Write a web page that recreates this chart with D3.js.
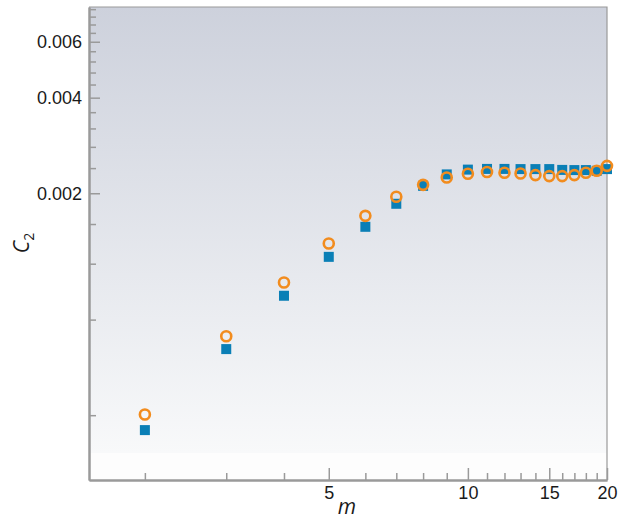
<!DOCTYPE html>
<html>
<head>
<meta charset="utf-8">
<script src="https://cdn.jsdelivr.net/npm/d3@7"></script>
<style>
  html, body { margin: 0; padding: 0; background: #ffffff; }
  svg { display: block; font-family: "Open Sans", "DejaVu Sans", sans-serif; }
</style>
</head>
<body>
<svg id="chart" width="629" height="520"></svg>
<script>
// Orders m and the two series of C2 values
const mValues = [2, 3, 4, 5, 6, 7, 8, 9, 10, 11, 12, 13, 14, 15, 16, 17, 18, 19, 20];
const seriesSquares = [0.000359, 0.000646, 0.000951, 0.001261, 0.001568, 0.001853, 0.00211,
  0.002293, 0.002374, 0.002386, 0.002386, 0.002383, 0.002383, 0.002383, 0.002369,
  0.002366, 0.002366, 0.002354, 0.002383];
const seriesCircles = [0.000402, 0.000709, 0.001047, 0.00139, 0.001698, 0.001949, 0.002126,
  0.002243, 0.002303, 0.002332, 0.00232, 0.002309, 0.002281, 0.002265, 0.002265,
  0.002281, 0.00232, 0.002354, 0.00244];

// Axis ticks
const xMajorTicks = [5, 10, 15, 20];
const xMinorTicks = [2, 3, 4, 6, 7, 8, 9, 11, 12, 13, 14, 16, 17, 18, 19];
const yMajorTicks = [0.002, 0.004, 0.006];
const yMinorTicks = [0.0004, 0.0008, 0.0012, 0.0016, 0.0024, 0.0028, 0.0032, 0.0036,
  0.0044, 0.0048, 0.0052, 0.0056, 0.0064, 0.0068, 0.0072, 0.0076];
const yTickLabels = ["0.002", "0.004", "0.006"];

const svg = d3.select("#chart");
const plot = { left: 89, right: 607, top: 7, bottom: 480 };

const x = d3.scaleLog().domain([1.514, 20]).range([plot.left, plot.right]);
const y = d3.scaleLog().domain([0.00025, 0.00772]).range([plot.bottom, plot.top]);

// Background gradient panel
const defs = svg.append("defs");
const grad = defs.append("linearGradient")
  .attr("id", "bg").attr("x1", 0).attr("y1", 0).attr("x2", 0).attr("y2", 1);
grad.append("stop").attr("offset", "0%").attr("stop-color", "#cdd1dc");
grad.append("stop").attr("offset", "100%").attr("stop-color", "#f8f9fa");

svg.append("rect")
  .attr("x", plot.left).attr("y", plot.top)
  .attr("width", plot.right - plot.left).attr("height", plot.bottom - plot.top)
  .attr("fill", "#fdfdfd");
svg.append("rect")
  .attr("x", plot.left).attr("y", plot.top)
  .attr("width", plot.right - plot.left).attr("height", 453 - plot.top)
  .attr("fill", "url(#bg)");

// Top and right frame lines
svg.append("path")
  .attr("d", `M${plot.left},${plot.top}H${plot.right}V${plot.bottom}`)
  .attr("fill", "none").attr("stroke", "#9a9a9a").attr("stroke-width", 1.2);

const axisColor = "#9a9a9a";

function styleAxis(g) {
  g.select(".domain").attr("stroke", axisColor).attr("stroke-width", 2);
  g.selectAll(".tick line").attr("stroke", axisColor).attr("stroke-width", 1.5);
  g.selectAll(".tick text").attr("fill", "#1a1a1a").attr("font-size", 18);
}

// X axis: minor then major ticks, pointing inward
svg.append("g")
  .attr("transform", `translate(0,${plot.bottom})`)
  .call(d3.axisBottom(x).tickValues(xMinorTicks).tickSize(-7).tickSizeOuter(0).tickFormat(""))
  .call(styleAxis);
svg.append("g")
  .attr("transform", `translate(0,${plot.bottom})`)
  .call(d3.axisBottom(x).tickValues(xMajorTicks).tickSize(-12).tickSizeOuter(0)
    .tickFormat(d3.format("d")))
  .call(styleAxis)
  .call(g => g.selectAll(".tick text").attr("y", 6).attr("dy", "0.71em"));

// Y axis: minor then major ticks, pointing inward
svg.append("g")
  .attr("transform", `translate(${plot.left},0)`)
  .call(d3.axisLeft(y).tickValues(yMinorTicks).tickSize(-7).tickSizeOuter(0).tickFormat(""))
  .call(styleAxis);
svg.append("g")
  .attr("transform", `translate(${plot.left},0)`)
  .call(d3.axisLeft(y).tickValues(yMajorTicks).tickSize(-11).tickSizeOuter(0)
    .tickFormat((d, i) => yTickLabels[i]))
  .call(styleAxis)
  .call(g => g.selectAll(".tick text").attr("x", -7));

// Axis titles
svg.append("text")
  .attr("x", 347).attr("y", 514)
  .attr("text-anchor", "middle")
  .attr("font-size", 21).attr("font-style", "italic").attr("fill", "#1a1a1a")
  .text("m");

const yTitle = svg.append("text")
  .attr("transform", "translate(29,243) rotate(-90)")
  .attr("text-anchor", "middle")
  .attr("font-size", 21).attr("font-style", "italic").attr("fill", "#1a1a1a");
yTitle.append("tspan").text("C");
yTitle.append("tspan").attr("font-size", 14).attr("dy", 5).attr("font-style", "normal").text("2");

// Blue squares
const sq = 10;
svg.append("g").selectAll("rect")
  .data(mValues.map((m, i) => ({ m, v: seriesSquares[i] })))
  .join("rect")
  .attr("x", d => x(d.m) - sq / 2)
  .attr("y", d => y(d.v) - sq / 2)
  .attr("width", sq).attr("height", sq)
  .attr("fill", "#0a7fb6");

// Orange open circles
svg.append("g").selectAll("circle")
  .data(mValues.map((m, i) => ({ m, v: seriesCircles[i] })))
  .join("circle")
  .attr("cx", d => x(d.m))
  .attr("cy", d => y(d.v))
  .attr("r", 5)
  .attr("fill", "none")
  .attr("stroke", "#f28c1e")
  .attr("stroke-width", 2.6);
</script>
</body>
</html>
